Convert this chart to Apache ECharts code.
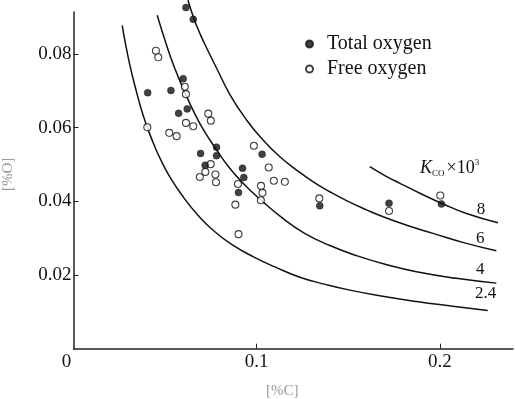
<!DOCTYPE html>
<html><head><meta charset="utf-8">
<script src="https://cdn.jsdelivr.net/npm/echarts@6/dist/echarts.min.js"></script>
<style>html,body{margin:0;padding:0;background:#fff}#c{width:515px;height:399px}</style>
</head><body><div id="c"></div>
<script>
// [%C], [%O] pairs
const totalOxygen = [
  [0.0614,0.0926],[0.0654,0.0894],[0.0599,0.0733],[0.0405,0.0695],[0.0532,0.0701],
  [0.0621,0.0651],[0.0574,0.0639],[0.0781,0.0547],[0.0694,0.0530],[0.0781,0.0524],
  [0.0719,0.0498],[0.0901,0.0424],[0.1030,0.0528],[0.0923,0.0490],[0.0930,0.0465],
  [0.1345,0.0388],[0.1723,0.0395],[0.2009,0.0393]
];
const freeOxygen = [
  [0.0450,0.0809],[0.0463,0.0791],[0.0608,0.0711],[0.0614,0.0691],[0.0403,0.0601],
  [0.0523,0.0586],[0.0563,0.0577],[0.0614,0.0613],[0.0654,0.0604],[0.0736,0.0638],
  [0.0750,0.0619],[0.0749,0.0501],[0.0720,0.0480],[0.0690,0.0466],[0.0775,0.0473],
  [0.0778,0.0452],[0.0898,0.0447],[0.0884,0.0391],[0.0901,0.0311],[0.0985,0.0551],
  [0.1066,0.0492],[0.1094,0.0456],[0.1154,0.0453],[0.1024,0.0442],[0.1032,0.0423],
  [0.1023,0.0403],[0.1342,0.0408],[0.1723,0.0374],[0.2003,0.0416]
];
// K_CO isolines
const curve24 = [[0.0266,0.0878],[0.0285,0.0825],[0.0310,0.0765],[0.0340,0.0705],[0.0370,0.0650],[0.0403,0.0601],[0.0440,0.0553],[0.0480,0.0509],[0.0530,0.0463],[0.0599,0.0412],[0.0680,0.0362],[0.0770,0.0318],[0.0870,0.0281],[0.0980,0.0250],[0.1100,0.0222],[0.1236,0.0194],[0.1380,0.0174],[0.1509,0.0159],[0.1680,0.0143],[0.1873,0.0128],[0.2060,0.0116],[0.2262,0.0104]];
const curve4 = [[0.0457,0.0905],[0.0490,0.0852],[0.0530,0.0792],[0.0570,0.0740],[0.0615,0.0688],[0.0660,0.0640],[0.0710,0.0594],[0.0781,0.0540],[0.0850,0.0492],[0.0930,0.0447],[0.1027,0.0402],[0.1140,0.0355],[0.1260,0.0314],[0.1400,0.0280],[0.1550,0.0252],[0.1710,0.0228],[0.1873,0.0209],[0.2090,0.0191],[0.2309,0.0178]];
const curve6 = [[0.0625,0.0946],[0.0655,0.0900],[0.0690,0.0856],[0.0735,0.0808],[0.0781,0.0762],[0.0854,0.0690],[0.0945,0.0621],[0.1036,0.0566],[0.1127,0.0521],[0.1218,0.0485],[0.1309,0.0453],[0.1400,0.0426],[0.1491,0.0402],[0.1600,0.0377],[0.1691,0.0358],[0.1820,0.0335],[0.1963,0.0313],[0.2130,0.0288],[0.2309,0.0266]];
const curve8 = [[0.1618,0.0494],[0.1700,0.0470],[0.1782,0.0449],[0.1900,0.0420],[0.2009,0.0395],[0.2146,0.0367],[0.2318,0.0342]];
const curveLabels = ['2.4','4','6','8'];
const xTickValues = [0,0.1,0.2];
const yTickValues = [0.02,0.04,0.06,0.08];
const seriesNames = ['Total oxygen','Free oxygen'];
const xName = '[%C]';
const yName = '[%O]';

const SERIF = '"Liberation Serif","DejaVu Serif",serif';
const curves = [curve24, curve4, curve6, curve8];
const labelOffsets = [[-2,-17],[-16,-14],[-16,-12],[-17,-13]];

const chart = echarts.init(document.getElementById('c'), null, {renderer:'canvas'});
const lineSeries = curves.map((c,i)=>({
  type:'line', name:'K'+curveLabels[i], data:c, smooth:0.5, showSymbol:false, symbol:'none',
  clip:false, silent:true, z:2,
  lineStyle:{color:'#111', width:1.5}
}));
chart.setOption({
  animation:false,
  backgroundColor:'#fff',
  grid:{left:73.5, right:2, top:12, bottom:50.3, outerBoundsMode:'none', containLabel:false},
  legend:{
    data:seriesNames, orient:'vertical', left:300, top:29, itemGap:5,
    itemWidth:25, itemHeight:7,
    textStyle:{fontFamily:SERIF, fontSize:20, color:'#111', lineHeight:20}
  },
  xAxis:{
    type:'value', min:0, max:0.24,
    name:xName, nameLocation:'middle', nameGap:35,
    nameTextStyle:{fontFamily:SERIF, fontSize:15, color:'#9a9a9a', padding:[0,22,0,0]},
    axisLine:{show:true, onZero:false, lineStyle:{color:'#222', width:1.5}},
    axisTick:{show:true, inside:true, length:5, customValues:[0.1,0.2], lineStyle:{color:'#222'}},
    axisLabel:{customValues:xTickValues, margin:4, fontFamily:SERIF, fontSize:19, color:'#111',
      formatter:v=> v===0 ? '{z|0}' : String(+v.toFixed(1)),
      rich:{z:{fontFamily:SERIF, fontSize:19, color:'#111', padding:[0,14,0,0]}}},
    splitLine:{show:false}
  },
  yAxis:{
    type:'value', min:0, max:0.0914,
    name:yName, nameLocation:'middle', nameGap:58, nameRotate:90,
    nameTextStyle:{fontFamily:SERIF, fontSize:15, color:'#9a9a9a', padding:[0,0,0,12]},
    axisLine:{show:true, onZero:false, lineStyle:{color:'#222', width:1.5}},
    axisTick:{show:true, inside:true, length:5, customValues:yTickValues, lineStyle:{color:'#222'}},
    axisLabel:{customValues:yTickValues, margin:2, fontFamily:SERIF, fontSize:19, color:'#111',
      formatter:v=>v.toFixed(2)},
    splitLine:{show:false}
  },
  series:[
    ...lineSeries,
    {type:'scatter', name:seriesNames[0], data:totalOxygen, symbol:'circle', symbolSize:7, clip:false, z:4,
      itemStyle:{color:'#111', borderColor:'#111', borderWidth:0.5}},
    {type:'scatter', name:seriesNames[1], data:freeOxygen, symbol:'circle', symbolSize:7, clip:false, z:3,
      itemStyle:{color:'#fff', borderColor:'#111', borderWidth:1.1}}
  ]
});

const graphics = curves.map((c,i)=>{
  const p = chart.convertToPixel({gridIndex:0}, c[c.length-1]);
  return {type:'text', x:p[0]+labelOffsets[i][0], y:p[1]+labelOffsets[i][1], silent:true,
    style:{text:curveLabels[i], fontFamily:SERIF, fontSize:17, fill:'#111', align:'center', verticalAlign:'middle'}};
});
graphics.push({type:'text', x:420, y:168, silent:true,
  style:{text:'{k|K}{s|CO}{m|×10}{p|3}', verticalAlign:'middle', align:'left',
    rich:{
      k:{fontFamily:SERIF, fontStyle:'italic', fontSize:18, fill:'#111', lineHeight:20},
      s:{fontFamily:SERIF, fontSize:9, fill:'#111', verticalAlign:'bottom', padding:[0,2,0,0]},
      m:{fontFamily:SERIF, fontSize:18, fill:'#111'},
      p:{fontFamily:SERIF, fontSize:9, fill:'#111', verticalAlign:'top'}
    }}});
chart.setOption({graphic:graphics});
</script>
</body></html>
